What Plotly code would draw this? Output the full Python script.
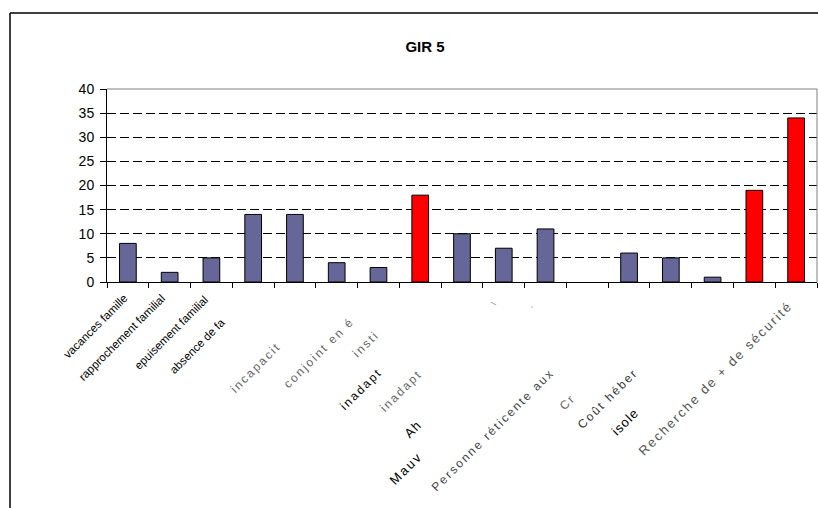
import plotly.graph_objects as go

# ---- data ----
categories = [
    "vacances famille", "rapprochement familial", "epuisement familial",
    "absence de famille", "incapacité", "conjoint en établissement",
    "institution inadaptée", "inadapté", "Mauvaise", "logement",
    "Personne réticente aux", "cr", "Coût hébergement", "isolement",
    "autre", "autres", "Recherche de + de sécurité",
]
values = [8, 2, 5, 14, 14, 4, 3, 18, 10, 7, 11, 0, 6, 5, 1, 19, 34]
highlight = [False, False, False, False, False, False, False, True,
             False, False, False, False, False, False, False, True, True]
y_ticks = [0, 5, 10, 15, 20, 25, 30, 35, 40]
title_text = "GIR 5"

# visible (partly clipped) category label fragments: (category index, text)
label_fragments = [
    (0, "vacances famille"), (1, "rapprochement familial"),
    (2, "epuisement familial"), (3, "absence de fa"), (4, "incapacit"),
    (5, "conjoint en é"), (6, "insti"), (6, "inadapt"), (7, "inadapt"),
    (8, "Ah"), (8, "Mauv"), (9, "\\"), (10, "-"),
    (10, "Personne réticente aux"), (11, "Cr"), (12, "Coût héber"),
    (13, "isole"), (16, "Recherche de + de sécurité"),
]
# placement/styling: (dx px, dy px below axis, font size, colour, letter spacing px)
frag_style = [
    (5, 7, 11.5, "#000", 0), (0, 8, 11.5, "#000", 0), (1, 9, 11.5, "#000", 0),
    (-23, 31, 11.5, "#000", 0), (-9, 55, 12, "#666", 2), (23, 30, 12, "#666", 2),
    (6, 43, 12, "#666", 2), (9, 80, 12, "#000", 2), (7, 82, 12, "#666", 2),
    (-35, 133, 13, "#000", 1), (-34, 164, 13, "#000", 2), (-3, 14, 8, "#888", 0),
    (-7, 17, 8, "#888", 0), (14, 81, 12, "#444", 2), (-6, 106, 12, "#666", 2),
    (14, 81, 12, "#333", 2), (-26, 120, 13, "#000", 1), (2, 14, 13, "#555", 2),
]

BLUE = "#666699"
RED = "#FF0000"
colors = [RED if h else BLUE for h in highlight]
outline_w = [1 if v > 0 else 0 for v in values]

fig = go.Figure(go.Bar(
    x=categories, y=values,
    marker=dict(color=colors, line=dict(color="#000000", width=outline_w)),
    hoverinfo="x+y",
))

W, H = 818, 508
L, R, T = 107, 1, 89
ph = 193
B = H - T - ph
pw = W - L - R
FONT = "Liberation Sans, Arial, sans-serif"

fig.update_layout(
    width=W, height=H,
    margin=dict(l=L, r=R, t=T, b=B, pad=0),
    paper_bgcolor="white", plot_bgcolor="white",
    bargap=0.6, showlegend=False,
    font=dict(family=FONT, color="#000"),
    title=dict(text=f"<b>{title_text}</b>", x=425 / W, xref="container", xanchor="center",
               y=1 - 47 / H, yref="container", yanchor="middle",
               font=dict(size=15, family=FONT, color="#000")),
)

fig.update_xaxes(
    type="category", showticklabels=False, showgrid=False, zeroline=False,
    showline=True, linecolor="#000", linewidth=1,
    ticks="outside", tickson="boundaries", ticklen=5, tickcolor="#000", tickwidth=1,
    range=[-0.5, len(categories) - 0.5],
)
fig.update_yaxes(
    range=[0, 40], tickvals=y_ticks, ticks="outside", ticklen=6, tickcolor="#000",
    ticklabelstandoff=3,
    tickfont=dict(size=14, family=FONT, color="#000"),
    showline=True, linecolor="#000", linewidth=1, zeroline=False,
    showgrid=True, gridcolor="#000", gridwidth=1, griddash="9px,4px",
)

# plot-area border (grey top & right)
fig.add_shape(type="line", xref="paper", yref="paper", x0=0, x1=1, y0=1, y1=1,
              line=dict(color="#808080", width=1), layer="above")
fig.add_shape(type="line", xref="paper", yref="paper", x0=1, x1=1, y0=0, y1=1,
              line=dict(color="#808080", width=1), layer="above")
# outer chart frame: only its left and top edges fall inside the picture
fx0 = (10 - L) / pw
fx1 = (W - L) / pw
fy1 = (T + ph - 13) / ph
fy0 = -(B) / ph
fig.add_shape(type="line", xref="paper", yref="paper", x0=fx0, x1=fx1, y0=fy1, y1=fy1,
              line=dict(color="#000", width=1.5), layer="below")
fig.add_shape(type="line", xref="paper", yref="paper", x0=fx0, x1=fx0, y0=fy0, y1=fy1,
              line=dict(color="#000", width=1.5), layer="below")

for (ci, txt), (dx, dy, sz, col, sp) in zip(label_fragments, frag_style):
    t = f'<span style="letter-spacing:{sp}px">{txt}</span>' if sp else txt
    fig.add_annotation(
        x=categories[ci], xref="x", y=0, yref="paper",
        text=t, showarrow=False, textangle=-45,
        xanchor="right", yanchor="top", xshift=dx, yshift=-dy,
        font=dict(size=sz, color=col, family=FONT),
    )

# let the figure fill the window exactly (no default page margin / scrollbars)
page_fix = "document.body.style.margin='0';document.body.style.overflow='hidden';"
fig.write_html("out.html", post_script=page_fix, config={"displayModeBar": False})
